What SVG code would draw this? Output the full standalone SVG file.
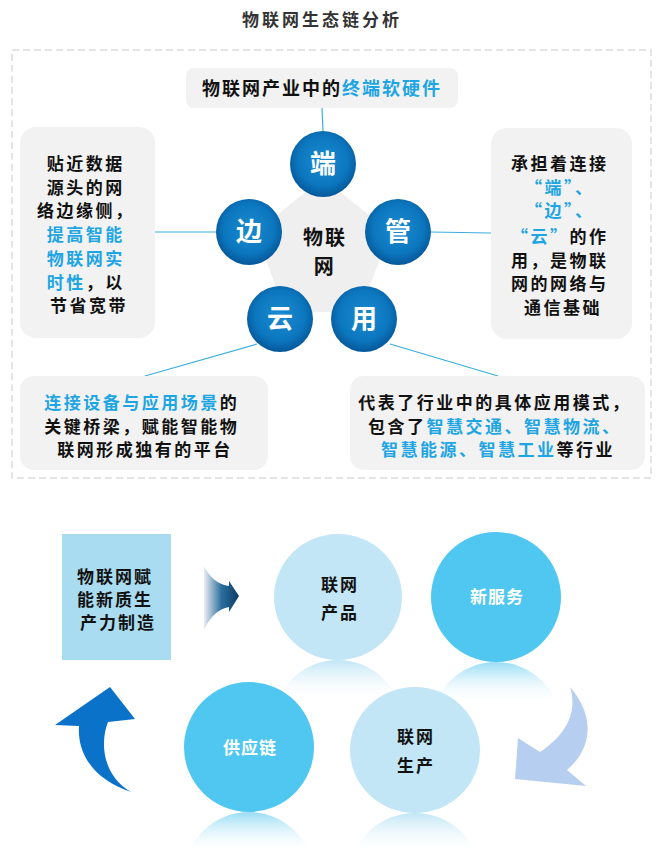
<svg xmlns="http://www.w3.org/2000/svg" width="663" height="865" viewBox="0 0 663 865">
<defs>
<style>
text{font-family:"Noto Sans CJK SC","Liberation Sans",sans-serif;font-weight:700;}
.t{font-size:17px;fill:#111;text-anchor:middle;letter-spacing:2.5px;}
.b{fill:#1ea5e3;}
.box{fill:#f2f2f2;}
.conn{stroke:#3aaee0;stroke-width:1.2;fill:none;}
.ball{fill:url(#gBall);}
.bt{font-size:26px;fill:#fff;text-anchor:middle;font-weight:700;}
.lc{fill:#c2e6f5;}
.mc{fill:#4fc7f1;}
.ct{font-size:17px;fill:#111;text-anchor:middle;letter-spacing:2px;}
.wt{font-size:17px;fill:#fff;text-anchor:middle;letter-spacing:1px;}
</style>
<radialGradient id="gBall" cx="0.5" cy="0.45" r="0.55">
<stop offset="0" stop-color="#1a8bd2"/>
<stop offset="0.7" stop-color="#0b76bd"/>
<stop offset="1" stop-color="#05579a"/>
</radialGradient>
<linearGradient id="gArrow" x1="0" y1="0" x2="1" y2="0">
<stop offset="0" stop-color="#eceef3"/>
<stop offset="0.5" stop-color="#2b6e9e"/>
<stop offset="1" stop-color="#0b3d64"/>
</linearGradient>
<linearGradient id="gRefL" x1="0" y1="0" x2="0" y2="1">
<stop offset="0" stop-color="#b9e3f5" stop-opacity="0.9"/>
<stop offset="0.32" stop-color="#ffffff" stop-opacity="0"/>
</linearGradient>
<linearGradient id="gRefM" x1="0" y1="0" x2="0" y2="1">
<stop offset="0" stop-color="#7dd4f3" stop-opacity="0.8"/>
<stop offset="0.32" stop-color="#ffffff" stop-opacity="0"/>
</linearGradient>
</defs>
<rect width="663" height="865" fill="#fff"/>
<text x="322" y="26" style="font-size:17px;fill:#333;text-anchor:middle;letter-spacing:3px;">物联网生态链分析</text>
<rect x="12" y="50" width="639" height="428" fill="none" stroke="#dcdcdc" stroke-width="1.5" stroke-dasharray="7,4"/>

<g id="connectors">
<line class="conn" x1="322" y1="108" x2="323" y2="131"/>
<line class="conn" x1="216" y1="232" x2="155" y2="232"/>
<line class="conn" x1="431" y1="232" x2="491" y2="233"/>
<line class="conn" x1="257" y1="344" x2="145" y2="376"/>
<line class="conn" x1="390" y1="344" x2="498" y2="376"/>
</g>

<g id="top-box">
<rect class="box" x="186" y="68" width="272" height="40" rx="8"/>
<text x="322" y="95" class="t" style="font-size:18px;letter-spacing:2px;">物联网产业中的<tspan class="b">终端软硬件</tspan></text>
</g>

<g id="left-box">
<rect class="box" x="20" y="127" width="135" height="211" rx="16"/>
<text class="t" x="89">
<tspan x="89" y="170">贴近数据</tspan>
<tspan x="89" y="194">源头的网</tspan>
<tspan x="89" y="217">络边缘侧，</tspan>
<tspan x="89" y="241" class="b">提高智能</tspan>
<tspan x="89" y="265" class="b">物联网实</tspan>
<tspan x="89" y="289"><tspan class="b">时性</tspan>，以</tspan>
<tspan x="89" y="312">节省宽带</tspan>
</text>
</g>

<g id="right-box">
<rect class="box" x="491" y="128" width="141" height="211" rx="16"/>
<text class="t" x="563">
<tspan x="563" y="170">承担着连接</tspan>
<tspan x="563" y="194" class="b">“端”、</tspan>
<tspan x="563" y="217" class="b">“边”、</tspan>
<tspan x="563" y="243"><tspan class="b">“云”</tspan>的作</tspan>
<tspan x="563" y="267">用，是物联</tspan>
<tspan x="563" y="290">网的网络与</tspan>
<tspan x="563" y="314">通信基础</tspan>
</text>
</g>

<g id="bl-box">
<rect class="box" x="20" y="376" width="248" height="94" rx="14"/>
<text class="t">
<tspan x="145" y="409"><tspan class="b">连接设备与应用场景</tspan>的</tspan>
<tspan x="145" y="433">关键桥梁，赋能智能物</tspan>
<tspan x="145" y="456">联网形成独有的平台</tspan>
</text>
</g>

<g id="br-box">
<rect class="box" x="350" y="376" width="295" height="94" rx="14"/>
<text class="t">
<tspan x="498" y="409">代表了行业中的具体应用模式，</tspan>
<tspan x="498" y="433">包含了<tspan class="b">智慧交通、智慧物流、</tspan></tspan>
<tspan x="498" y="456"><tspan class="b">智慧能源、智慧工业</tspan>等行业</tspan>
</text>
</g>

<g id="center">
<polygon points="323,178 390,232 360,312 285,312 256,232" fill="#efefef"/>
<text class="t" x="325" y="245" style="font-size:20px;letter-spacing:2px;">物联</text>
<text class="t" x="325" y="274" style="font-size:20px;">网</text>
</g>

<g id="node-duan"><circle class="ball" cx="323" cy="164" r="33"/><text class="bt" x="323" y="173">端</text></g>
<g id="node-guan"><circle class="ball" cx="398" cy="232" r="33"/><text class="bt" x="398" y="241">管</text></g>
<g id="node-bian"><circle class="ball" cx="249" cy="232" r="33"/><text class="bt" x="249" y="241">边</text></g>
<g id="node-yun"><circle class="ball" cx="280" cy="319" r="33"/><text class="bt" x="280" y="328">云</text></g>
<g id="node-yong"><circle class="ball" cx="364" cy="319" r="33"/><text class="bt" x="364" y="328">用</text></g>

<g id="reflections">
<ellipse cx="338" cy="723" rx="64" ry="63" fill="url(#gRefL)"/>
<ellipse cx="496" cy="727" rx="65" ry="65" fill="url(#gRefM)"/>
<ellipse cx="249" cy="877" rx="65" ry="65" fill="url(#gRefM)"/>
<ellipse cx="415" cy="876" rx="65" ry="63" fill="url(#gRefL)"/>
</g>

<g id="start-box">
<rect x="62" y="534" width="109" height="126" fill="#a9dcf0"/>
<text class="ct" x="118">
<tspan x="118" y="583">物联网赋</tspan>
<tspan x="118" y="606">能新质生</tspan>
<tspan x="118" y="629">产力制造</tspan>
</text>
</g>

<g id="arrow-right">
<path d="M204,566 Q213,584 229,586 L229,581 L239,596 L229,612 L229,607 Q213,610 204,630 Z" fill="url(#gArrow)"/>
</g>

<g id="node-product">
<ellipse class="lc" cx="338" cy="597" rx="64" ry="63"/>
<text class="ct" x="340"><tspan x="340" y="591">联网</tspan><tspan x="340" y="619">产品</tspan></text>
</g>
<g id="node-service">
<ellipse class="mc" cx="496" cy="597" rx="65" ry="65"/>
<text class="wt" x="497" y="603">新服务</text>
</g>
<g id="node-supply">
<ellipse class="mc" cx="249" cy="747" rx="65" ry="65"/>
<text class="wt" x="250" y="754">供应链</text>
</g>
<g id="node-production">
<ellipse class="lc" cx="415" cy="750" rx="65" ry="63"/>
<text class="ct" x="416"><tspan x="416" y="743">联网</tspan><tspan x="416" y="772">生产</tspan></text>
</g>

<g id="arrow-down">
<path d="M570,687 C592,712 596,745 567,770 L586,786 L515,779 L518,738 L540,752 C566,735 578,712 570,687 Z" fill="#b6cff1"/>
</g>
<g id="arrow-up">
<path d="M110,687 L135,719 L108,722 C100,742 102,775 131,792 C95,780 77,755 79,726 L55,725 Z" fill="#0a72c8"/>
</g>
</svg>
